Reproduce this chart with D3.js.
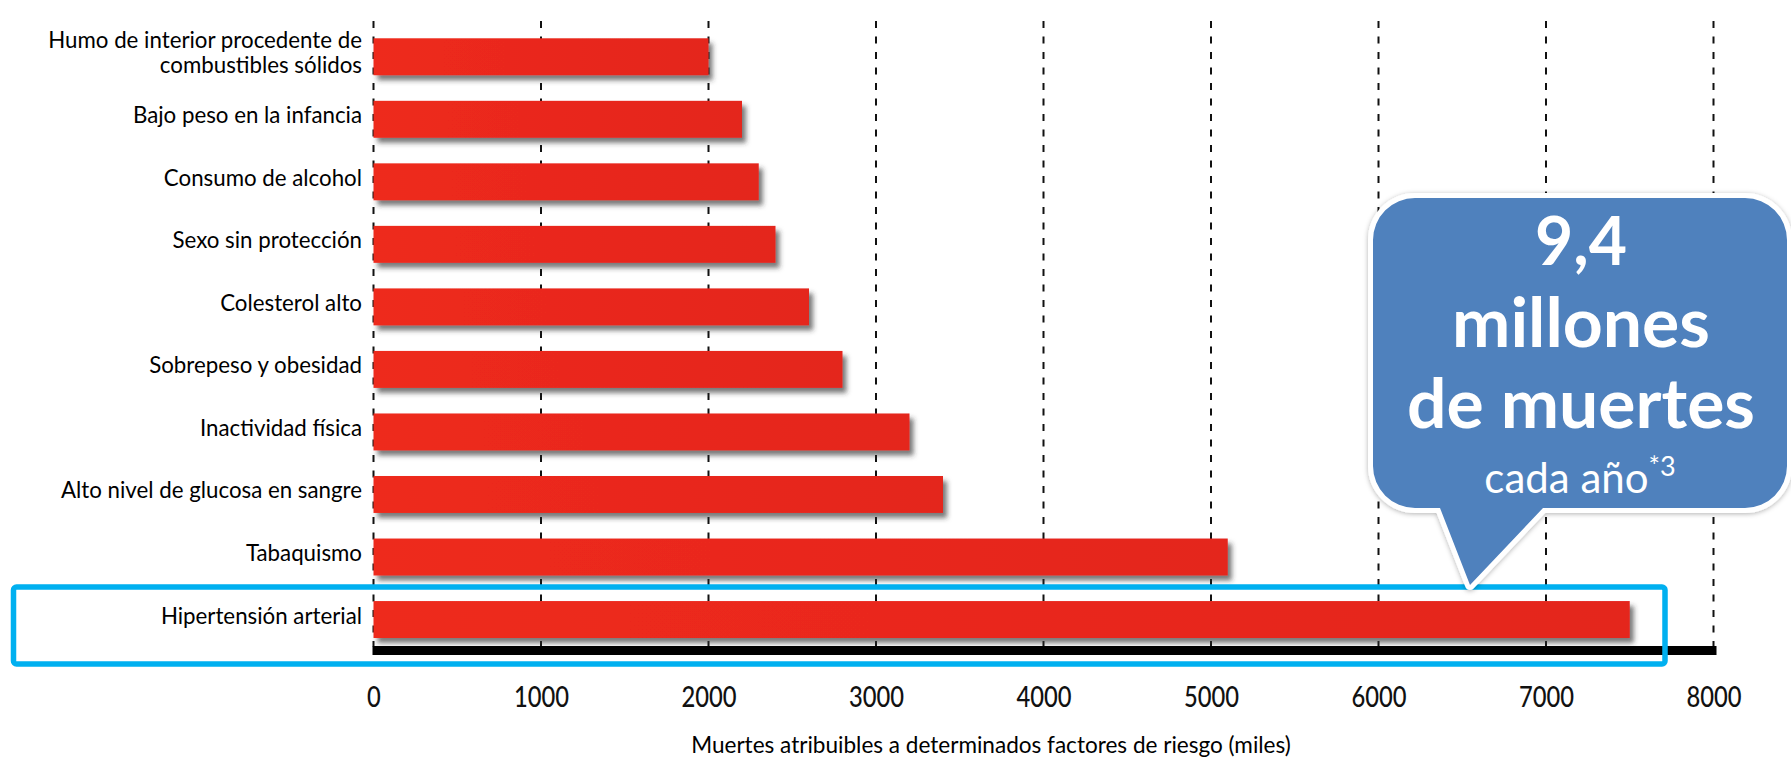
<!DOCTYPE html>
<html>
<head>
<meta charset="utf-8">
<script src="https://cdn.jsdelivr.net/npm/d3@7"></script>
<style>
  html, body { margin: 0; padding: 0; background: #fff; }
  svg { display: block; }
</style>
</head>
<body>
<svg id="chart" width="1791" height="757"></svg>
<script>
// ---- data ----
const categories = [
  "Humo de interior procedente de\ncombustibles sólidos",
  "Bajo peso en la infancia",
  "Consumo de alcohol",
  "Sexo sin protección",
  "Colesterol alto",
  "Sobrepeso y obesidad",
  "Inactividad física",
  "Alto nivel de glucosa en sangre",
  "Tabaquismo",
  "Hipertensión arterial"
];
const values = [2000, 2200, 2300, 2400, 2600, 2800, 3200, 3400, 5100, 7500];
const xTicks = [0, 1000, 2000, 3000, 4000, 5000, 6000, 7000, 8000];
const xTitle = "Muertes atribuibles a determinados factores de riesgo (miles)";
const highlighted = "Hipertensión arterial";
const calloutLines = ["9,4", "millones", "de muertes"];
const calloutSub = "cada año";
const calloutSup = "*3";

// ---- layout ----
const svg = d3.select("#chart");
const x = d3.scaleLinear().domain([0, 8000]).range([373.5, 1713.5]);
const y = d3.scaleBand().domain(categories).range([25.5, 650.8]).paddingInner(0.409).paddingOuter(0.2045);
const axisY = 650.5;
const gridTop = 21;

const defs = svg.append("defs");
const sh = defs.append("filter").attr("id", "barShadow").attr("x", "-5%").attr("y", "-30%").attr("width", "115%").attr("height", "180%");
sh.append("feDropShadow").attr("dx", 4).attr("dy", 5).attr("stdDeviation", 2.5)
  .attr("flood-color", "#333").attr("flood-opacity", 0.65);
const cs = defs.append("filter").attr("id", "calloutShadow").attr("x", "-10%").attr("y", "-10%").attr("width", "120%").attr("height", "125%");
cs.append("feDropShadow").attr("dx", 0).attr("dy", 1).attr("stdDeviation", 2.5)
  .attr("flood-color", "#000").attr("flood-opacity", 0.3);
const grad = defs.append("linearGradient").attr("id", "barGrad").attr("x1", 0).attr("x2", 1).attr("y1", 0).attr("y2", 0);
grad.append("stop").attr("offset", "0%").attr("stop-color", "#EE2A1E");
grad.append("stop").attr("offset", "100%").attr("stop-color", "#E4251F");

// gridlines
svg.append("g").selectAll("line").data(xTicks).join("line")
  .attr("x1", d => x(d)).attr("x2", d => x(d))
  .attr("y1", gridTop).attr("y2", axisY - 4)
  .attr("stroke", "#111").attr("stroke-width", 2)
  .attr("stroke-dasharray", "7,8.5");

// bars
svg.append("g").selectAll("rect").data(categories).join("rect")
  .attr("x", x(0))
  .attr("y", d => y(d))
  .attr("width", (d, i) => x(values[i]) - x(0))
  .attr("height", y.bandwidth())
  .attr("fill", "url(#barGrad)")
  .attr("filter", "url(#barShadow)");

// x axis
const xAxis = d3.axisBottom(x).tickValues(xTicks).tickSize(0).tickSizeOuter(0).tickFormat(d3.format("d"));
const gx = svg.append("g").attr("transform", `translate(0,${axisY})`).call(xAxis);
gx.select(".domain").attr("stroke", "#000").attr("stroke-width", 9).attr("d", `M${x(0) - 1},0H${x(8000) + 3}`);
gx.selectAll(".tick text")
  .attr("y", 56.5).attr("dy", 0)
  .attr("font-family", "Lato, 'Open Sans', sans-serif")
  .attr("font-size", 29)
  .attr("font-weight", 500)
  .attr("fill", "#111")
  .attr("transform", "scale(0.82,1)");

// axis title
const tt = svg.append("text")
  .attr("x", 991).attr("y", 752.5)
  .attr("text-anchor", "middle")
  .attr("font-family", "Lato, 'Open Sans', sans-serif")
  .attr("font-size", 19)
  .attr("fill", "#000")
  .text(xTitle);
{
  const w = tt.node().getComputedTextLength();
  tt.attr("font-size", 19 * 600 / w);
}

// category labels
const lab = svg.append("g").attr("font-family", "Lato, 'Open Sans', sans-serif").attr("font-size", 21).attr("fill", "#000");
const labels = lab.selectAll("text").data(categories).join("text")
  .attr("text-anchor", "end")
  .attr("x", 362);
labels.each(function(d) {
  const t = d3.select(this);
  const lines = d.split("\n");
  const cy = y(d) + y.bandwidth() / 2;
  if (lines.length === 1) {
    t.attr("y", cy + 4).text(d);
  } else {
    t.attr("y", cy - 8.5);
    lines.forEach((ln, k) => {
      t.append("tspan").attr("x", 362).attr("y", cy - 8.5 + k * 24.5).text(ln);
    });
  }
});
{
  const first = labels.filter((d, i) => i === 0).select("tspan");
  const w = first.node().getComputedTextLength();
  lab.attr("font-size", 21 * 314 / w);
}

// highlight box
svg.append("rect")
  .attr("x", 13.5).attr("y", y(highlighted) - 14)
  .attr("width", 1651.5).attr("height", 77)
  .attr("rx", 3)
  .attr("fill", "none").attr("stroke", "#00B0F0").attr("stroke-width", 5.5);

// callout
const bx0 = 1373, bx1 = 1787, by0 = 198, by1 = 508, r = 42;
const tip = [1470, 585], pl = 1440, pr = 1543;
const path = d3.path();
path.moveTo(bx0 + r, by0);
path.lineTo(bx1 - r, by0);
path.arcTo(bx1, by0, bx1, by0 + r, r);
path.lineTo(bx1, by1 - r);
path.arcTo(bx1, by1, bx1 - r, by1, r);
path.lineTo(pr, by1);
path.lineTo(tip[0], tip[1]);
path.lineTo(pl, by1);
path.lineTo(bx0 + r, by1);
path.arcTo(bx0, by1, bx0, by1 - r, r);
path.lineTo(bx0, by0 + r);
path.arcTo(bx0, by0, bx0 + r, by0, r);
path.closePath();
svg.append("path").attr("d", path.toString())
  .attr("fill", "#4F81BD").attr("stroke", "#fff").attr("stroke-width", 10)
  .attr("stroke-linejoin", "round")
  .style("paint-order", "stroke")
  .attr("filter", "url(#calloutShadow)");

const cx = 1581;
const bigBase = [265, 347, 428];
const bigW = [92, 258, 348];
calloutLines.forEach((ln, i) => {
  const t = svg.append("text")
    .attr("x", cx).attr("y", bigBase[i])
    .attr("text-anchor", "middle")
    .attr("font-family", "Lato, 'Open Sans', sans-serif")
    .attr("font-weight", 700)
    .attr("font-size", 67)
    .attr("fill", "#fff")
    .text(ln);
  const w = t.node().getComputedTextLength();
  t.attr("font-size", Math.max(60, Math.min(74, 67 * bigW[i] / w)));
});
const sub = svg.append("text")
  .attr("x", 1580).attr("y", 493)
  .attr("text-anchor", "middle")
  .attr("font-family", "Lato, 'Open Sans', sans-serif")
  .attr("font-size", 42)
  .attr("fill", "#fff");
sub.append("tspan").text(calloutSub);
sub.append("tspan").attr("font-size", 27).attr("dy", -17).text(calloutSup);
</script>
</body>
</html>
